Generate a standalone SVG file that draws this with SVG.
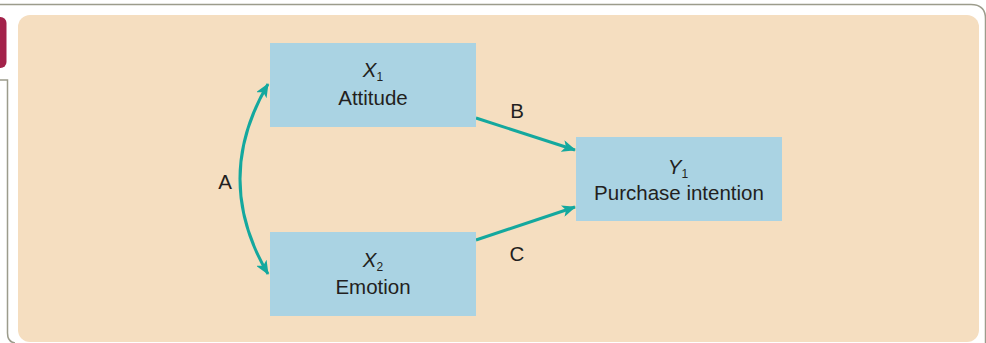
<svg xmlns="http://www.w3.org/2000/svg" width="986" height="343" viewBox="0 0 986 343">
<defs>
<style>
.box{fill:#aad3e3}
.t{font-family:"Liberation Sans",Arial,sans-serif;font-size:20.5px;fill:#231f20;text-anchor:middle}
.v{font-style:italic}
.s{font-size:12px;font-style:normal}
.c{fill:none;stroke:#14a89e;stroke-width:3}
.frame{fill:none;stroke:#9c9c8c;stroke-width:1.5}
</style>
<marker id="ah" markerUnits="userSpaceOnUse" markerWidth="14" markerHeight="12" refX="13" refY="6" orient="auto-start-reverse" viewBox="0 0 14 12">
<path d="M0,0 L14,6 L0,12 L3.5,6 z" fill="#14a89e"/>
</marker>
</defs>
<rect width="986" height="343" fill="#ffffff"/>
<path class="frame" d="M0 4.5 H971 Q985.5 4.5 985.5 19 V343"/>
<path class="frame" d="M0 80 H7.5 V333 Q7.5 342 15 343"/>
<rect x="-10" y="17" width="16.5" height="51" rx="6" fill="#a3224a"/>
<rect x="18" y="15" width="961" height="327" rx="12" fill="#f5dec0"/>
<g id="connectors">
<path class="c" d="M268 84 Q212 179 268 274" marker-start="url(#ah)" marker-end="url(#ah)"/>
<line class="c" x1="476" y1="118" x2="575" y2="150" marker-end="url(#ah)"/>
<line class="c" x1="476" y1="240" x2="575" y2="207" marker-end="url(#ah)"/>
<text class="t" x="225" y="189">A</text>
<text class="t" x="517" y="118">B</text>
<text class="t" x="517" y="261">C</text>
</g>
<g id="x1">
<rect class="box" x="270" y="43" width="206" height="84"/>
<text class="t v" x="373" y="77">X<tspan class="s" dy="4">1</tspan></text>
<text class="t" x="373" y="105">Attitude</text>
</g>
<g id="x2">
<rect class="box" x="270" y="232" width="206" height="84"/>
<text class="t v" x="373" y="267">X<tspan class="s" dy="4">2</tspan></text>
<text class="t" x="373" y="294">Emotion</text>
</g>
<g id="y1">
<rect class="box" x="576" y="137" width="206" height="84"/>
<text class="t v" x="678" y="174">Y<tspan class="s" dy="4">1</tspan></text>
<text class="t" x="679" y="200">Purchase intention</text>
</g>
</svg>
